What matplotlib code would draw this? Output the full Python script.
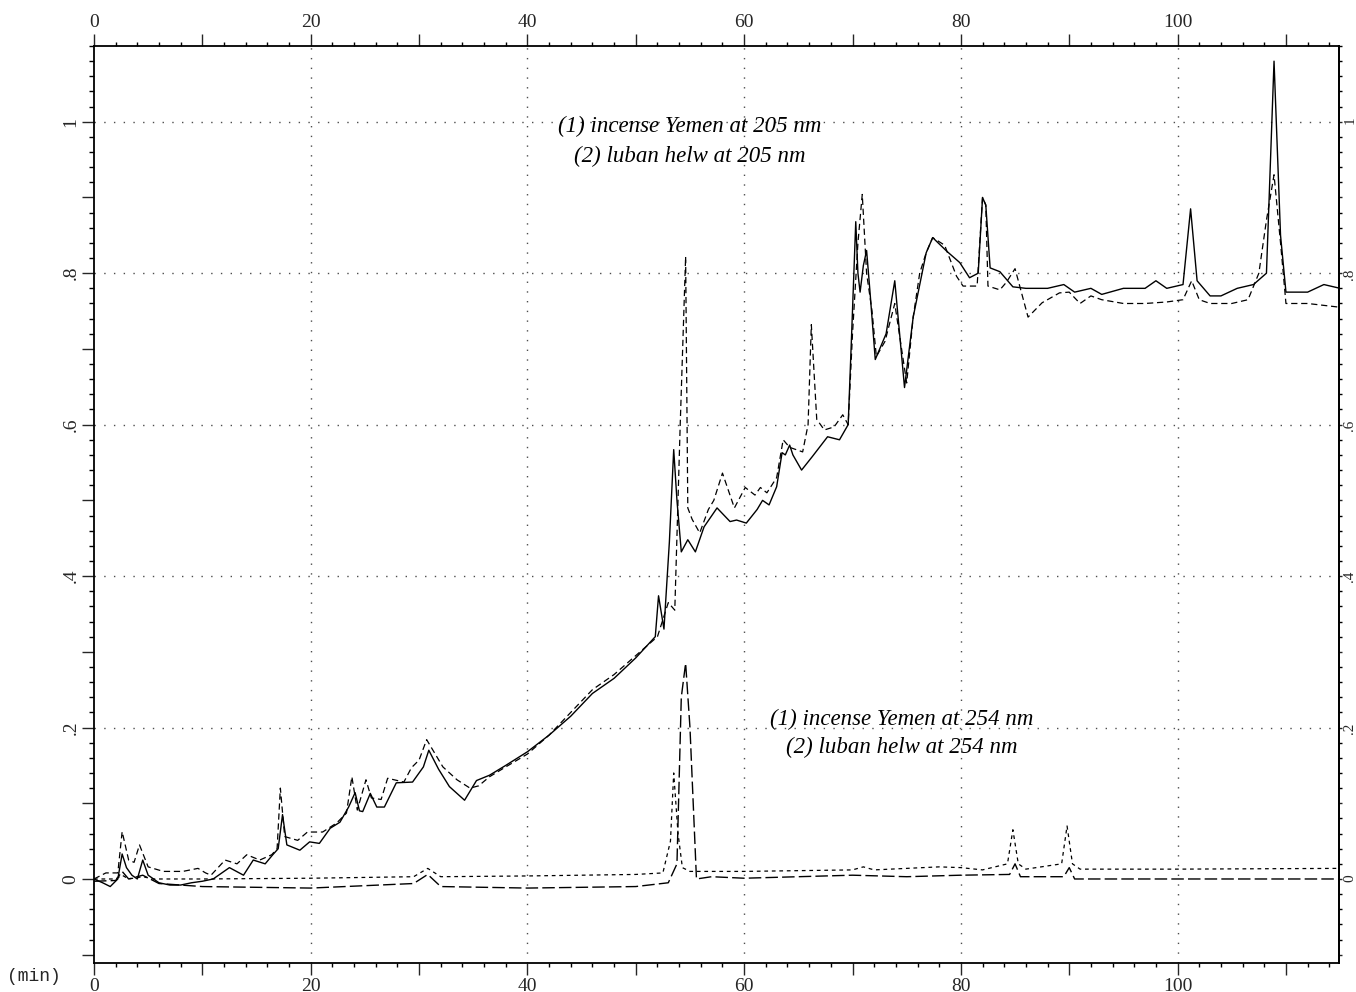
"""
HPLC chromatograms: incense Yemen vs luban helw at 205 nm and 254 nm.
"""

import numpy as np
import matplotlib
matplotlib.use("Agg")
import matplotlib.pyplot as plt
from matplotlib.ticker import MultipleLocator, FuncFormatter

# 205 nm, (1) incense Yemen -- solid trace
t_yemen_205 = [0, 0.8, 1.5, 2.2, 2.6, 3.0, 3.5, 4.0, 4.5, 5.0, 6, 7, 8, 9, 10, 11,
               12.5, 13.8, 14.7, 15.8, 16.5, 17.0, 17.4, 17.8, 19.0, 19.9, 20.8,
               21.8, 22.7, 23.5, 24.1, 24.5, 24.8, 25.5, 26.1, 26.8, 27.9, 29.4,
               30.4, 30.9, 31.8, 32.8, 34.2, 35.3, 36.5, 38, 40, 42, 44, 46, 47,
               48, 50, 51.8, 52.1, 52.6, 53.1, 53.5, 53.8, 54.2, 54.8, 55.5, 56.3,
               57.5, 58.7, 59.3, 60.2, 61.2, 61.7, 62.3, 63, 63.5, 63.8, 64.2,
               64.5, 65.3, 66.3, 67.7, 68.8, 69.6, 69.9, 70.3, 70.5, 70.7, 71.0,
               71.3, 71.6, 72.1, 73.1, 73.9, 74.8, 75.6, 76.8, 77.4, 78.7, 79.9,
               80.8, 81.6, 82.0, 82.3, 82.7, 83.6, 84.8, 86, 88, 89.5, 90.5, 92,
               93, 95, 97, 98, 99, 100.5, 101.2, 101.8, 103, 104, 105.5, 107,
               108.2, 108.9, 109.5, 110, 112, 113.5, 115]
a_yemen_205 = [0.0, -0.005, -0.01, 0.0, 0.033, 0.015, 0.005, 0.0, 0.025, 0.005,
               -0.005, -0.008, -0.008, -0.005, -0.003, 0.0, 0.015, 0.005, 0.025,
               0.02, 0.032, 0.04, 0.085, 0.045, 0.038, 0.049, 0.047, 0.067, 0.075,
               0.095, 0.114, 0.09, 0.089, 0.113, 0.095, 0.095, 0.127, 0.128, 0.148,
               0.17, 0.145, 0.122, 0.104, 0.13, 0.137, 0.15, 0.168, 0.19, 0.215,
               0.245, 0.255, 0.265, 0.292, 0.32, 0.374, 0.33, 0.445, 0.567, 0.5,
               0.432, 0.448, 0.432, 0.465, 0.49, 0.472, 0.474, 0.47, 0.488, 0.5,
               0.494, 0.518, 0.563, 0.56, 0.573, 0.56, 0.54, 0.558, 0.584, 0.58,
               0.6, 0.712, 0.868, 0.8, 0.775, 0.81, 0.83, 0.778, 0.686, 0.72, 0.79,
               0.649, 0.742, 0.827, 0.847, 0.829, 0.814, 0.794, 0.8, 0.9, 0.89,
               0.807, 0.802, 0.782, 0.78, 0.78, 0.785, 0.775, 0.78, 0.772, 0.78,
               0.78, 0.79, 0.78, 0.785, 0.885, 0.79, 0.77, 0.77, 0.78, 0.785, 0.8,
               1.08, 0.85, 0.775, 0.775, 0.785, 0.78]

# 205 nm, (2) luban helw -- dashed trace
t_luban_205 = [0, 1.1, 2.2, 2.6, 3.2, 3.7, 4.2, 5.0, 6.4, 8.2, 9.6, 10.3, 10.8,
               12.1, 13.2, 14.1, 15.3, 16.4, 16.9, 17.2, 17.6, 18.8, 19.7, 21.1,
               22.4, 23.3, 23.8, 24.3, 25.1, 25.6, 26.5, 27.1, 28.6, 29.3, 30.0,
               30.7, 32.2, 33.5, 34.7, 35.5, 36.5, 38, 40, 42, 44, 46, 48, 50, 52,
               53.0, 53.6, 54.1, 54.6, 54.8, 55.2, 55.9, 56.7, 57.2, 58.0, 59.1,
               60.1, 61.0, 61.5, 62.1, 63.0, 63.6, 64.2, 65.4, 65.9, 66.2, 66.7,
               67.4, 68.3, 69.1, 69.6, 70.0, 70.5, 70.9, 71.3, 71.8, 72.2, 73.0,
               73.9, 75.0, 75.6, 76.2, 76.8, 77.4, 78.5, 79.6, 80.2, 81.5, 82.0,
               82.3, 82.5, 83.6, 84.2, 85.0, 86.2, 87.5, 89.1, 90, 91, 92, 93, 95,
               97, 99, 100.5, 101.3, 102, 103, 105, 106.5, 107.5, 108.2, 108.9,
               109.5, 110, 112, 115]
a_luban_205 = [0.0, 0.008, 0.008, 0.0625, 0.025, 0.022, 0.045, 0.016, 0.01, 0.01,
               0.014, 0.008, 0.005, 0.025, 0.02, 0.032, 0.025, 0.032, 0.04, 0.12,
               0.056, 0.051, 0.062, 0.062, 0.074, 0.087, 0.135, 0.091, 0.131,
               0.107, 0.105, 0.133, 0.128, 0.147, 0.157, 0.184, 0.148, 0.131, 0.12,
               0.123, 0.135, 0.148, 0.165, 0.19, 0.22, 0.25, 0.27, 0.295, 0.32,
               0.365, 0.355, 0.6, 0.822, 0.49, 0.475, 0.457, 0.488, 0.5, 0.536,
               0.49, 0.517, 0.507, 0.517, 0.51, 0.53, 0.58, 0.57, 0.564, 0.6,
               0.732, 0.607, 0.593, 0.597, 0.613, 0.6, 0.72, 0.84, 0.904, 0.8,
               0.75, 0.69, 0.71, 0.76, 0.655, 0.742, 0.8, 0.827, 0.847, 0.837,
               0.796, 0.783, 0.783, 0.9, 0.89, 0.783, 0.778, 0.788, 0.806, 0.742,
               0.761, 0.774, 0.775, 0.76, 0.77, 0.765, 0.76, 0.76, 0.762, 0.765,
               0.79, 0.765, 0.76, 0.76, 0.765, 0.8, 0.87, 0.93, 0.84, 0.76, 0.76,
               0.755]

# 254 nm traces
t_yemen_254 = [0, 2, 2.6, 3.2, 4.5, 5.5, 10, 20, 29.5, 30.8, 32, 40, 50, 52.5,
               53.2, 53.5, 53.9, 54.3, 55, 60, 65, 70, 71, 72, 78, 80, 82, 84.3,
               84.8, 85.3, 86, 89.3, 89.8, 90.3, 91, 100, 115]
a_yemen_254 = [0.0, 0.0, 0.005, 0.0, 0.003, 0.0, 0.0, 0.001, 0.003, 0.014, 0.003,
               0.004, 0.006, 0.008, 0.05, 0.14, 0.06, 0.015, 0.01, 0.01, 0.011,
               0.012, 0.016, 0.012, 0.016, 0.015, 0.012, 0.02, 0.065, 0.02, 0.013,
               0.02, 0.07, 0.02, 0.013, 0.013, 0.014]

t_luban_254 = [0, 2, 2.6, 3.2, 4.5, 6, 10, 20, 29.5, 30.8, 32, 40, 50, 53, 53.8,
               54.2, 54.6, 55.0, 55.6, 57, 60, 65, 70, 75, 80, 84.5, 85, 85.5,
               89.5, 90, 90.5, 95, 100, 115]
a_luban_254 = [-0.003, -0.002, 0.01, 0.0, 0.005, -0.006, -0.01, -0.012, -0.006,
               0.006, -0.01, -0.012, -0.01, -0.005, 0.02, 0.24, 0.285, 0.2, 0.0,
               0.003, 0.001, 0.003, 0.005, 0.003, 0.005, 0.006, 0.02, 0.003,
               0.003, 0.015, 0.0, 0.0, 0.0, 0.0]

label_205 = "(1) incense Yemen at 205 nm\n(2) luban helw at 205 nm"
label_254 = "(1) incense Yemen at 254 nm\n(2) luban helw at 254 nm"

y_major = np.round(np.arange(-0.1, 1.01, 0.1), 2)
x_major = np.arange(0, 111, 10)


def fmt_y(v, _):
    if v < -1e-6 or abs(round(v / 0.2) * 0.2 - v) > 1e-6:
        return ""
    if abs(v) < 1e-6:
        return "0"
    if abs(v - 1) < 1e-6:
        return "1"
    return f"{v:.1f}".lstrip("0")


def fmt_x(v, _):
    return f"{v:.0f}" if round(v) % 20 == 0 else ""


def main():
    plt.rcParams["font.family"] = ["Liberation Serif", "DejaVu Serif"]
    fig = plt.figure(figsize=(13.56, 9.92), dpi=100)
    ax = fig.add_axes([0.0693, 0.0292, 0.9182, 0.9244])

    # dotted grid every 20 min and every 0.2 AU
    for gx in range(20, 101, 20):
        ax.axvline(gx, color="0.3", lw=1.0, ls=(0, (1, 6)), zorder=0)
    for gy in [0.2, 0.4, 0.6, 0.8, 1.0]:
        ax.axhline(gy, color="0.3", lw=1.0, ls=(0, (1, 6)), zorder=0)

    ax.plot(t_yemen_254, a_yemen_254, color="k", lw=0.9, ls=(0, (3, 3)))
    ax.plot(t_luban_254, a_luban_254, color="k", lw=1.0, ls=(0, (9, 3)))
    ax.plot(t_luban_205, a_luban_205, color="k", lw=0.9, ls=(0, (5, 3)))
    ax.plot(t_yemen_205, a_yemen_205, color="k", lw=1.0)

    ax.set_xlim(0, 114.9)
    ax.set_ylim(-0.111, 1.10)

    ax.set_xticks(x_major)
    ax.xaxis.set_minor_locator(MultipleLocator(2))
    ax.xaxis.set_major_formatter(FuncFormatter(fmt_x))
    ax.set_yticks(y_major)
    ax.yaxis.set_minor_locator(MultipleLocator(0.02))
    ax.yaxis.set_major_formatter(FuncFormatter(fmt_y))

    ax.tick_params(axis="x", which="major", direction="out", length=8.5, width=1,
                   top=True, labeltop=True, labelsize=14, pad=2, colors="0.15")
    ax.tick_params(axis="x", which="minor", direction="out", length=3, width=1,
                   top=True)
    ax.tick_params(axis="y", which="major", direction="out", length=8.5, width=1,
                   labelsize=14, pad=2, colors="0.15", labelrotation=90)
    ax.tick_params(axis="y", which="minor", direction="out", length=3.5, width=1)
    for lab in ax.get_yticklabels():
        lab.set_va("center")

    # right axis: short ticks, labels squeezed against the page edge
    ax2 = ax.secondary_yaxis("right")
    ax2.set_yticks(y_major)
    ax2.yaxis.set_minor_locator(MultipleLocator(0.02))
    ax2.yaxis.set_major_formatter(FuncFormatter(fmt_y))
    ax2.tick_params(axis="y", which="major", direction="out", length=2.5, width=1,
                    labelsize=11, pad=0.5, colors="0.15", labelrotation=90)
    ax2.tick_params(axis="y", which="minor", direction="out", length=2, width=1)
    ax2.spines["right"].set_linewidth(1.3)

    for sp in ax.spines.values():
        sp.set_linewidth(1.3)

    fig.text(0.005, 0.007, "(min)", family="Liberation Mono", fontsize=13,
             color="0.15", ha="left", va="bottom")

    ax.text(55.0, 0.974, label_205, style="italic", fontsize=16.5, ha="center",
            va="center", linespacing=1.5)
    ax.text(74.5, 0.192, label_254, style="italic", fontsize=16.5, ha="center",
            va="center", linespacing=1.45)

    fig.savefig("out.png", dpi=100)


if __name__ == "__main__":
    main()
